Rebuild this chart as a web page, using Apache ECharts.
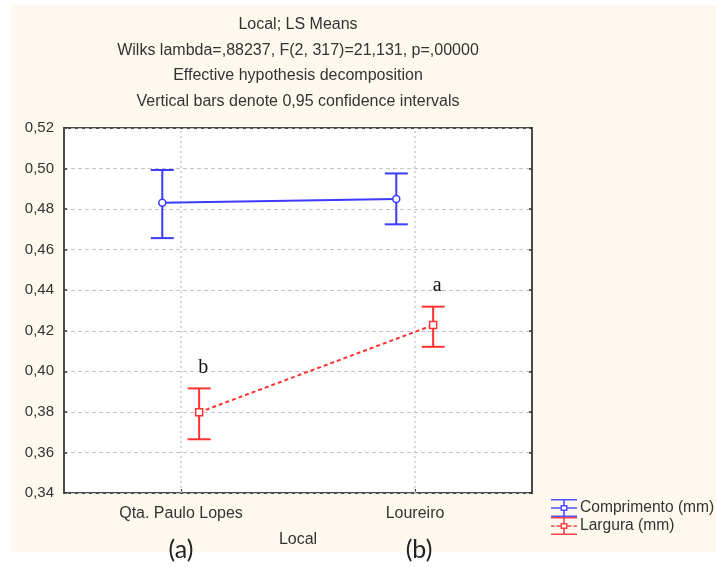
<!DOCTYPE html>
<html>
<head>
<meta charset="utf-8">
<script src="https://cdn.jsdelivr.net/npm/echarts@6/dist/echarts.min.js"></script>
<style>
  html, body { margin: 0; padding: 0; background: #fff; }
  #chart { width: 716px; height: 567px; }
</style>
</head>
<body>
<div id="chart"></div>
<script>
// Category positions on the x scale and their labels
const categories = ['Qta. Paulo Lopes', 'Loureiro'];
const categoryPos = [1, 3];

// LS means with 0.95 confidence limits
const comprimentoMean = [0.4831, 0.4850];
const comprimentoLow  = [0.4657, 0.4725];
const comprimentoHigh = [0.4993, 0.4976];

const larguraMean = [0.3798, 0.4228];
const larguraLow  = [0.3665, 0.4121];
const larguraHigh = [0.3916, 0.4319];

// Significance letters over the Largura bars
const larguraLetters = ['b', 'a'];

const yTicks = { min: 0.34, max: 0.52, step: 0.02 };

const titleLines = [
  'Local; LS Means',
  'Wilks lambda=,88237, F(2, 317)=21,131, p=,00000',
  'Effective hypothesis decomposition',
  'Vertical bars denote 0,95 confidence intervals'
];
const panelTags = ['(a)', '(b)'];

const BLUE = '#3b3bff';
const RED = '#ff3131';
const FONT = '"Liberation Sans", Arial, sans-serif';

const blueShift = -0.16;
const redShift = 0.155;

function pts(mean, shift) {
  return mean.map((v, i) => [categoryPos[i] + shift, v]);
}
function bars(mean, low, high, shift) {
  return mean.map((v, i) => [categoryPos[i] + shift, low[i], high[i]]);
}

function errorBarItem(color, letters) {
  return function (params, api) {
    const x = api.value(0);
    const lo = api.coord([x, api.value(1)]);
    const hi = api.coord([x, api.value(2)]);
    const hw = 11.5;
    const style = { stroke: color, lineWidth: 2 };
    const children = [
      { type: 'line', shape: { x1: lo[0], y1: lo[1], x2: hi[0], y2: hi[1] }, style },
      { type: 'line', shape: { x1: lo[0] - hw, y1: lo[1], x2: lo[0] + hw, y2: lo[1] }, style },
      { type: 'line', shape: { x1: hi[0] - hw, y1: hi[1], x2: hi[0] + hw, y2: hi[1] }, style }
    ];
    if (letters) {
      children.push({
        type: 'text',
        style: {
          text: letters[params.dataIndex],
          x: hi[0] + 4, y: hi[1] - 21,
          align: 'center', verticalAlign: 'middle',
          font: '20px "Liberation Serif", "Times New Roman", serif',
          fill: '#111'
        }
      });
    }
    return { type: 'group', children };
  };
}

// Legend glyphs: a small error bar with the mean marker in the middle
const iconSolid = 'path://M0,0H26V1.6H0Z M0,16.4H26V18H0Z M12.2,0H13.8V6H12.2Z M12.2,12H13.8V18H12.2Z M0,8.2H9.5V9.8H0Z M16.5,8.2H26V9.8H16.5Z M9.5,6H16.5V12H9.5Z M11,7.5V10.5H15V7.5Z';
const iconDashed = 'path://M0,0H26V1.6H0Z M0,16.4H26V18H0Z M12.2,0H13.8V6H12.2Z M12.2,12H13.8V18H12.2Z M0,8.2H3.5V9.8H0Z M5.5,8.2H9.5V9.8H5.5Z M16.5,8.2H20.5V9.8H16.5Z M22.5,8.2H26V9.8H22.5Z M9.5,6H16.5V12H9.5Z M11,7.5V10.5H15V7.5Z';

const chart = echarts.init(document.getElementById('chart'));

const titleTexts = titleLines.map((t, i) => ({
  type: 'text',
  x: 298, y: 25 + i * 25.4,
  style: { text: t, font: '16px ' + FONT, fill: '#333', align: 'center', verticalAlign: 'middle' },
  z: 10
}));

chart.setOption({
  backgroundColor: '#fff',
  animation: false,
  graphic: [
    { type: 'rect', shape: { x: 11, y: 5, width: 705, height: 547 }, style: { fill: '#fdf9ee' }, z: -10, silent: true },
    ...titleTexts,
    { type: 'text', x: 298, y: 540, style: { text: 'Local', font: '16px ' + FONT, fill: '#333', align: 'center', verticalAlign: 'middle' } },
    { type: 'text', x: 181, y: 550, style: { text: panelTags[0], font: '25px Lato, "Open Sans", sans-serif', fill: '#222', align: 'center', verticalAlign: 'middle' } },
    { type: 'text', x: 419, y: 550, style: { text: panelTags[1], font: '25px Lato, "Open Sans", sans-serif', fill: '#222', align: 'center', verticalAlign: 'middle' } }
  ],
  grid: {
    left: 64, right: 184, top: 128, bottom: 74,
    show: true, backgroundColor: '#fff', borderColor: '#4a4a4a', borderWidth: 2
  },
  legend: {
    orient: 'vertical', left: 546, top: 494,
    itemWidth: 26, itemHeight: 18, itemGap: 0,
    itemStyle: { borderWidth: 0 },
    lineStyle: { width: 0 },
    textStyle: { fontFamily: FONT, fontSize: 15.6, color: '#333', padding: [0, 0, 0, -2] },
    data: [
      { name: 'Comprimento (mm)', icon: iconSolid, itemStyle: { color: '#5050ff', borderWidth: 0 } },
      { name: 'Largura (mm)', icon: iconDashed, itemStyle: { color: '#ff4545', borderWidth: 0 } }
    ]
  },
  xAxis: {
    type: 'value', min: 0, max: 4, interval: 1,
    axisLine: { show: false },
    splitLine: { show: false },
    axisTick: { show: true, inside: true, length: 4, customValues: categoryPos, lineStyle: { color: '#333' } },
    axisLabel: {
      customValues: categoryPos, margin: 13,
      fontFamily: FONT, fontSize: 16, color: '#333',
      formatter: v => { const i = categoryPos.indexOf(v); return i >= 0 ? categories[i] : ''; }
    }
  },
  yAxis: [
    {
      type: 'value', min: yTicks.min, max: yTicks.max, interval: yTicks.step,
      axisLine: { show: false },
      axisTick: { show: true, inside: true, length: 3, lineStyle: { color: '#333', width: 1.5 } },
      axisLabel: { fontFamily: FONT, fontSize: 15, color: '#333', margin: 10, formatter: v => v.toFixed(2).replace('.', ',') },
      splitLine: { show: true, lineStyle: { color: '#c4c4c4', type: [4, 3], width: 1 } }
    },
    {
      type: 'value', position: 'right', min: yTicks.min, max: yTicks.max, interval: yTicks.step,
      axisLine: { show: false },
      axisTick: { show: true, inside: true, length: 3, lineStyle: { color: '#333', width: 1.5 } },
      axisLabel: { show: false },
      splitLine: { show: false }
    }
  ],
  series: [
    {
      name: 'grid-verticals', type: 'line', data: [], silent: true,
      markLine: {
        silent: true, symbol: 'none', label: { show: false },
        lineStyle: { color: '#c8c8c8', type: [2, 3], width: 1.5 },
        data: categoryPos.map(p => ({ xAxis: p }))
      }
    },
    {
      name: 'Comprimento (mm)', type: 'line', data: pts(comprimentoMean, blueShift),
      color: BLUE, lineStyle: { color: BLUE, width: 2 },
      symbol: 'circle', symbolSize: 7,
      itemStyle: { color: '#fff', borderColor: BLUE, borderWidth: 1.5 }, z: 5
    },
    {
      name: 'Comprimento (mm)', type: 'custom', data: bars(comprimentoMean, comprimentoLow, comprimentoHigh, blueShift),
      renderItem: errorBarItem(BLUE, null), z: 4
    },
    {
      name: 'Largura (mm)', type: 'line', data: pts(larguraMean, redShift),
      color: RED, lineStyle: { color: RED, width: 2, type: [4, 3] },
      symbol: 'rect', symbolSize: 7,
      itemStyle: { color: '#fff', borderColor: RED, borderWidth: 1.5 }, z: 5
    },
    {
      name: 'Largura (mm)', type: 'custom', data: bars(larguraMean, larguraLow, larguraHigh, redShift),
      renderItem: errorBarItem(RED, larguraLetters), z: 4
    }
  ]
});
</script>
</body>
</html>
